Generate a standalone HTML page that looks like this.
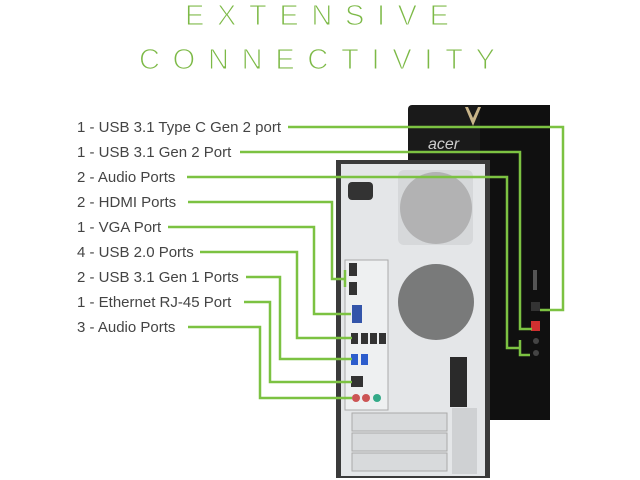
<!DOCTYPE html>
<html><head><style>
html,body{margin:0;padding:0;background:#fff;}
svg{display:block;}
</style></head><body>
<svg width="640" height="480" viewBox="0 0 640 480" xmlns="http://www.w3.org/2000/svg">
<g font-family="Liberation Sans, sans-serif" fill="#7cb946" font-size="29" stroke="#fff" stroke-width="1.1">
<text x="185" y="25" textLength="264" lengthAdjust="spacing">EXTENSIVE</text>
<text x="139" y="69" textLength="356" lengthAdjust="spacing">CONNECTIVITY</text>
</g>
<!-- black tower -->
<rect x="408" y="105" width="142" height="315" rx="4" fill="#1a1a1a"/>
<rect x="480" y="105" width="70" height="315" fill="#101010"/>
<polygon points="465,107 473,126 481,107 478,107 473,118 468,107" fill="#c9b58a"/>
<text x="428" y="149" font-family="Liberation Sans, sans-serif" font-style="italic" font-size="16" fill="#ccc">acer</text>
<rect x="533" y="270" width="4" height="20" fill="#555"/>
<rect x="531" y="302" width="9" height="9" fill="#333"/>
<rect x="531" y="321" width="9" height="10" fill="#d03030"/>
<circle cx="536" cy="341" r="3" fill="#444"/>
<circle cx="536" cy="353" r="3" fill="#444"/>
<!-- silver case -->
<rect x="336" y="160" width="154" height="318" fill="#3a3a3a"/>
<rect x="341" y="164" width="144" height="312" fill="#e4e6e8"/>
<rect x="348" y="182" width="25" height="18" rx="4" fill="#333"/>
<rect x="398" y="170" width="75" height="75" rx="6" fill="#d6d8da"/>
<circle cx="436" cy="208" r="36" fill="#999" opacity="0.6"/>
<circle cx="436" cy="302" r="38" fill="#555" opacity="0.75"/>
<rect x="345" y="260" width="43" height="150" fill="#eef0f1" stroke="#aaa" stroke-width="1"/>
<rect x="349" y="263" width="8" height="13" fill="#333"/>
<rect x="349" y="282" width="8" height="13" fill="#333"/>
<rect x="352" y="305" width="10" height="18" fill="#3355aa"/>
<rect x="351" y="333" width="7" height="11" fill="#333"/><rect x="361" y="333" width="7" height="11" fill="#333"/><rect x="370" y="333" width="7" height="11" fill="#333"/><rect x="379" y="333" width="7" height="11" fill="#333"/>
<rect x="351" y="354" width="7" height="11" fill="#2c5ccc"/><rect x="361" y="354" width="7" height="11" fill="#2c5ccc"/>
<rect x="351" y="376" width="12" height="11" fill="#333"/>
<circle cx="356" cy="398" r="4" fill="#c55"/><circle cx="366" cy="398" r="4" fill="#c55"/><circle cx="377" cy="398" r="4" fill="#3a8"/>
<rect x="450" y="357" width="17" height="50" fill="#2a2a2a"/>
<rect x="352" y="413" width="95" height="18" fill="#d8dadc" stroke="#aaa"/>
<rect x="352" y="433" width="95" height="18" fill="#d8dadc" stroke="#aaa"/>
<rect x="352" y="453" width="95" height="18" fill="#d8dadc" stroke="#aaa"/>
<rect x="452" y="408" width="25" height="66" fill="#cfd1d3"/>
<!-- labels -->
<g font-family="Liberation Sans, sans-serif" font-size="15" fill="#444">
<text x="77" y="132">1 - USB 3.1 Type C Gen 2 port</text>
<text x="77" y="157">1 - USB 3.1 Gen 2 Port</text>
<text x="77" y="182">2 - Audio Ports</text>
<text x="77" y="207">2 - HDMI Ports</text>
<text x="77" y="232">1 - VGA Port</text>
<text x="77" y="257">4 - USB 2.0 Ports</text>
<text x="77" y="282">2 - USB 3.1 Gen 1 Ports</text>
<text x="77" y="307">1 - Ethernet RJ-45 Port</text>
<text x="77" y="332">3 - Audio Ports</text>
</g>
<g fill="none" stroke="#7cc242" stroke-width="2.5">
<polyline points="288,127 563,127 563,310 540,310"/>
<polyline points="240,152 520,152 520,329 532,329"/>
<polyline points="187,177 507,177 507,348 520,348"/>
<polyline points="520,340 520,355 530,355 M520,340 530,340"/>
<polyline points="188,202 332,202 332,279 345,279"/>
<polyline points="345,270 345,287 M345,270 350,270 M345,287 350,287"/>
<polyline points="168,227 314,227 314,314 351,314"/>
<polyline points="200,252 297,252 297,338 352,338"/>
<polyline points="246,277 280,277 280,359 352,359"/>
<polyline points="244,302 270,302 270,382 352,382"/>
<polyline points="188,327 260,327 260,398 352,398"/>
</g>
</svg>
</body></html>
